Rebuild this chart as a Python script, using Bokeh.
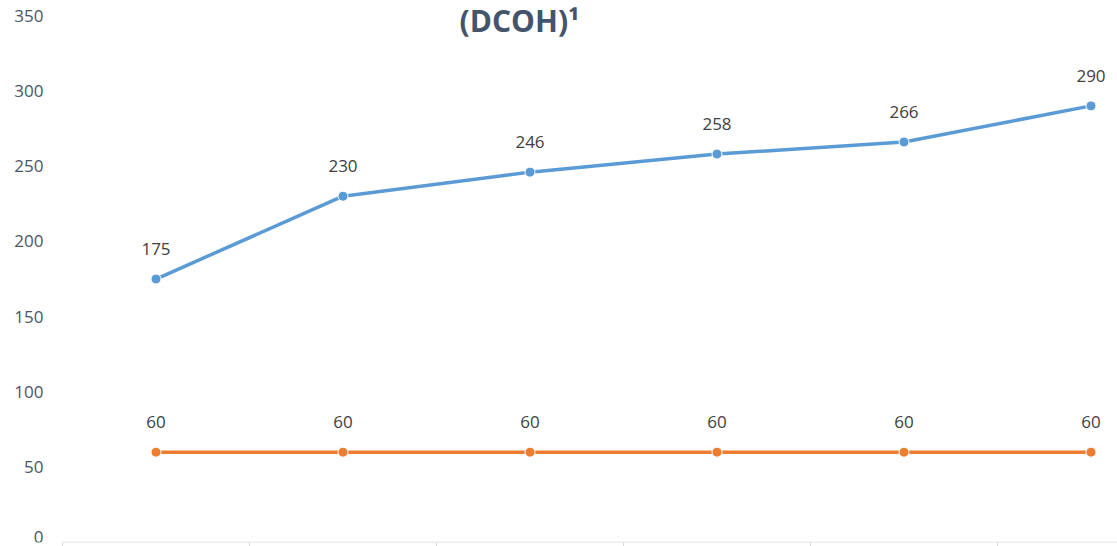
from bokeh.plotting import figure
from bokeh.models import ColumnDataSource, LabelSet, Label, FixedTicker
from bokeh.core.properties import value
from bokeh.embed import file_html
from bokeh.resources import INLINE

# Data
categories = ["1", "2", "3", "4", "5", "6"]
series_a = [175, 230, 246, 258, 266, 290]
series_b = [60, 60, 60, 60, 60, 60]
y_ticks = [0, 50, 100, 150, 200, 250, 300, 350]
title_text = "(DCOH)\u00b9"

# layout (pixels)
CAT_W = 187.0      # width of one category slot
LEFT = 62.0        # where the category axis starts
W, H = 1117, 546

xs = [i + 0.5 for i in range(len(categories))]
src_a = ColumnDataSource(dict(x=xs, y=series_a, t=[str(v) for v in series_a]))
src_b = ColumnDataSource(dict(x=xs, y=series_b, t=[str(v) for v in series_b]))

p = figure(width=W, height=H, output_backend="svg", toolbar_location=None,
           x_range=(-LEFT / CAT_W, (W - LEFT) / CAT_W), y_range=(0, 360),
           min_border_left=0, min_border_right=0, min_border_top=0, min_border_bottom=0)
p.outline_line_color = None
p.grid.grid_line_color = None
p.background_fill_color = "white"
p.border_fill_color = "white"
p.yaxis.visible = False

# x axis (ticks only, line drawn from the first category boundary)
p.xaxis.ticker = FixedTicker(ticks=list(range(len(categories) + 1)))
p.xaxis.axis_line_color = None
p.xaxis.major_tick_line_color = "#D9D9D9"
p.xaxis.major_tick_out = 4
p.xaxis.major_tick_in = 0
p.xaxis.minor_tick_line_color = None
p.xaxis.major_label_text_font_size = "1px"
p.xaxis.major_label_text_alpha = 0
p.xaxis.major_label_standoff = 0
p.segment(x0=[0], y0=[0], x1=[(W - LEFT) / CAT_W], y1=[0], line_color="#D9D9D9", line_width=1.5)

# y tick labels (the lowest one nudged up so it stays inside the picture)
tick_color = "#4A5568"
ysrc = ColumnDataSource(dict(x=[-19 / CAT_W] * len(y_ticks), y=y_ticks,
                             t=[str(v) for v in y_ticks],
                             off=[-6 if v == y_ticks[0] else 0 for v in y_ticks]))
p.text("x", "y", text="t", y_offset="off", source=ysrc, text_align="right",
       text_baseline="middle", text_font=value("Open Sans"), text_font_size=value("17px"),
       text_color=tick_color)

# lines
p.line("x", "y", source=src_a, line_color="#5B9BD5", line_width=3.5)
p.scatter("x", "y", source=src_a, size=10, fill_color="#5B9BD5", line_color="white", line_width=1)
p.line("x", "y", source=src_b, line_color="#ED7D31", line_width=3.5)
p.scatter("x", "y", source=src_b, size=10, fill_color="#ED7D31", line_color="white", line_width=1)

for src in (src_a, src_b):
    p.add_layout(LabelSet(x="x", y="y", text="t", source=src, y_offset=30,
                          text_align="center", text_baseline="middle",
                          text_font=value("Open Sans"), text_font_size=value("17px"),
                          text_color=value("#404040")))

p.add_layout(Label(x=(519 - LEFT) / CAT_W, y=346.7, text=title_text, text_align="center",
                   text_baseline="middle", text_font="Open Sans", text_font_style="bold",
                   text_font_size="30px", text_color="#44546A"))

open("out.html", "w").write(file_html(p, INLINE))
